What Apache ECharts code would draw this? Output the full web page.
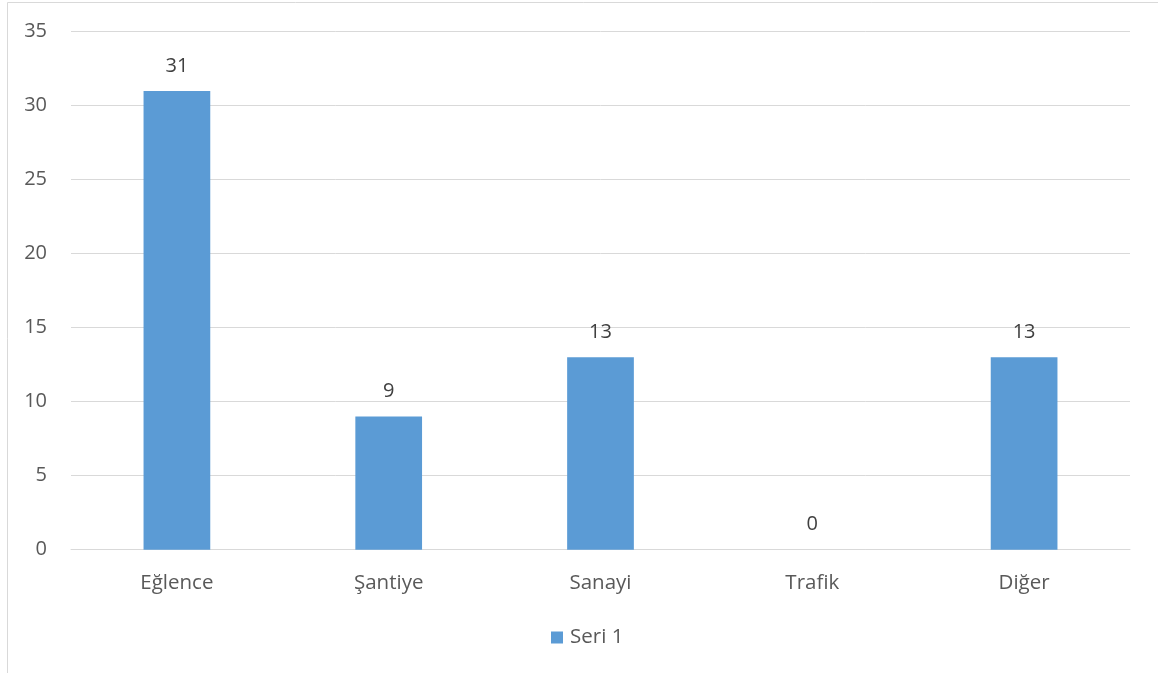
<!DOCTYPE html>
<html>
<head>
<meta charset="utf-8">
<script src="https://cdn.jsdelivr.net/npm/echarts@6/dist/echarts.min.js"></script>
<style>
  html, body { margin: 0; padding: 0; background: #fff; }
  #chart { width: 1158px; height: 673px; }
</style>
</head>
<body>
<div id="chart"></div>
<script>
// Categories and values for the single series
const categories = ['Eğlence', 'Şantiye', 'Sanayi', 'Trafik', 'Diğer'];
const seriesName = 'Seri 1';
const values = [31, 9, 13, 0, 13];
const yTicks = { min: 0, max: 35, interval: 5 };

const FONT = '"Open Sans", "Noto Sans", sans-serif';
const TEXT = '#595959';

const chart = echarts.init(document.getElementById('chart'), null, { renderer: 'canvas' });
chart.setOption({
  backgroundColor: '#ffffff',
  animation: false,
  textStyle: { fontFamily: FONT },
  graphic: [{
    type: 'rect',
    shape: { x: 7.5, y: 2.5, width: 1300, height: 800 },
    style: { fill: 'none', stroke: '#d9d9d9', lineWidth: 1 },
    silent: true
  }],
  grid: { left: 71, right: 28, top: 31.7, bottom: 123.3, containLabel: false },
  legend: {
    data: [seriesName],
    bottom: 25,
    left: 551,
    padding: 0,
    icon: 'rect',
    itemWidth: 12,
    itemHeight: 12,
    itemGap: 7,
    textStyle: { color: TEXT, fontSize: 20.5, fontFamily: FONT, padding: [0, 0, 0, 2] }
  },
  xAxis: {
    type: 'category',
    data: categories,
    axisLine: { show: true, lineStyle: { color: '#d9d9d9', width: 1 } },
    axisTick: { show: false },
    axisLabel: { color: TEXT, fontSize: 20.5, fontFamily: FONT, margin: 23 }
  },
  yAxis: {
    type: 'value',
    min: yTicks.min,
    max: yTicks.max,
    interval: yTicks.interval,
    axisLine: { show: false },
    axisTick: { show: false },
    splitLine: { lineStyle: { color: '#d9d9d9', width: 1 } },
    axisLabel: { color: TEXT, fontSize: 20, fontFamily: FONT, margin: 24 }
  },
  series: [{
    name: seriesName,
    type: 'bar',
    data: values,
    barWidth: '31.5%',
    itemStyle: { color: '#5b9bd5' },
    label: {
      show: true,
      position: 'top',
      distance: 15,
      color: '#404040',
      fontSize: 20,
      fontFamily: FONT
    }
  }]
});
</script>
</body>
</html>
